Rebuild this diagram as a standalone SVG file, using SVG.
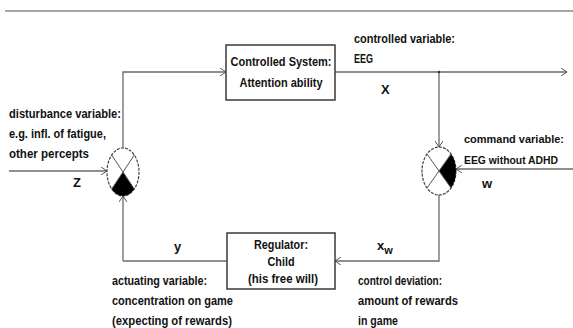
<svg xmlns="http://www.w3.org/2000/svg" width="573" height="328" viewBox="0 0 573 328">
<defs>
<style>
text{font-family:"Liberation Sans Narrow","Liberation Sans",Arial,sans-serif;font-size:13px;font-weight:bold;fill:#111}
.c{text-anchor:middle}
.s{font-size:11.5px}
.ln{fill:none;stroke:#6a6a6a;stroke-width:1.3}
.box{fill:#fff;stroke:#3a3a3a;stroke-width:1.5}
.el{fill:#fff;stroke:#444;stroke-width:1.2;stroke-dasharray:3 1.2}
.xl{stroke:#555;stroke-width:1}
.blk{fill:#000}
</style>
<marker id="ar" viewBox="0 0 6 8" refX="6" refY="4" markerWidth="6" markerHeight="8" markerUnits="userSpaceOnUse" orient="auto">
<path d="M0,0 L6,4 L0,8" fill="none" stroke="#555" stroke-width="1"/>
</marker>
</defs>
<rect width="573" height="328" fill="#fff"/>
<line x1="5" y1="11" x2="573" y2="11" stroke="#888" stroke-width="1.6"/>

<g id="connectors">
<path class="ln" d="M9,171 H107" marker-end="url(#ar)"/>
<path class="ln" d="M123,261 V196" marker-end="url(#ar)"/>
<path class="ln" d="M123,148 V72 H226" marker-end="url(#ar)"/>
<path class="ln" d="M335,72 H567" marker-end="url(#ar)"/>
<path class="ln" d="M439,72 V147" marker-end="url(#ar)"/>
<circle cx="439" cy="72" r="1.3" fill="#333"/>
<path class="ln" d="M573,169 H456" marker-end="url(#ar)"/>
<path class="ln" d="M439,195 V261 H335" marker-end="url(#ar)"/>
<path class="ln" d="M227,261 H123"/>
</g>

<g id="controlled-system">
<rect class="box" x="226" y="45" width="109" height="55"/>
<text class="c" x="281" y="66" textLength="101" lengthAdjust="spacingAndGlyphs">Controlled System:</text>
<text class="c" x="281" y="87" textLength="83" lengthAdjust="spacingAndGlyphs">Attention ability</text>
</g>

<g id="regulator">
<rect class="box" x="227" y="233" width="108" height="56"/>
<text class="c" x="281" y="249" textLength="54" lengthAdjust="spacingAndGlyphs">Regulator:</text>
<text class="c" x="281" y="266" textLength="27" lengthAdjust="spacingAndGlyphs">Child</text>
<text class="c" x="283" y="283" textLength="70" lengthAdjust="spacingAndGlyphs">(his free will)</text>
</g>

<g id="comparator-left">
<ellipse class="el" cx="123" cy="172" rx="16" ry="24"/>
<path class="blk" d="M123,172 L111.7,189 A16,24 0 0 0 134.3,189 Z"/>
<line class="xl" x1="111.7" y1="155" x2="134.3" y2="189"/>
<line class="xl" x1="134.3" y1="155" x2="111.7" y2="189"/>
</g>

<g id="comparator-right">
<ellipse class="el" cx="439" cy="171" rx="17" ry="24"/>
<path class="blk" d="M439,171 L451,154 A17,24 0 0 1 451,188 Z"/>
<line class="xl" x1="427" y1="154" x2="451" y2="188"/>
<line class="xl" x1="451" y1="154" x2="427" y2="188"/>
</g>

<g id="labels">
<text x="9" y="118" textLength="112" lengthAdjust="spacingAndGlyphs">disturbance variable:</text>
<text x="9" y="138" textLength="97" lengthAdjust="spacingAndGlyphs">e.g. infl. of fatigue,</text>
<text x="9" y="158" textLength="80" lengthAdjust="spacingAndGlyphs">other percepts</text>
<text x="73" y="187">Z</text>

<text x="354" y="43" textLength="101" lengthAdjust="spacingAndGlyphs">controlled variable:</text>
<text x="354" y="63" textLength="19" lengthAdjust="spacingAndGlyphs">EEG</text>
<text x="381" y="94">X</text>

<text class="s" x="464" y="143" textLength="100" lengthAdjust="spacingAndGlyphs">command variable:</text>
<text class="s" x="464" y="164" textLength="94" lengthAdjust="spacingAndGlyphs">EEG without ADHD</text>
<text x="482" y="188">w</text>

<text x="174" y="251">y</text>
<text x="377" y="250">x<tspan dy="4" font-size="11">w</tspan></text>

<text x="112" y="285" textLength="95" lengthAdjust="spacingAndGlyphs">actuating variable:</text>
<text x="112" y="305" textLength="121" lengthAdjust="spacingAndGlyphs">concentration on game</text>
<text x="112" y="325" textLength="120" lengthAdjust="spacingAndGlyphs">(expecting of rewards)</text>

<text x="358" y="285" textLength="84" lengthAdjust="spacingAndGlyphs">control deviation:</text>
<text x="358" y="305" textLength="100" lengthAdjust="spacingAndGlyphs">amount of rewards</text>
<text x="358" y="325" textLength="40" lengthAdjust="spacingAndGlyphs">in game</text>
</g>
</svg>
